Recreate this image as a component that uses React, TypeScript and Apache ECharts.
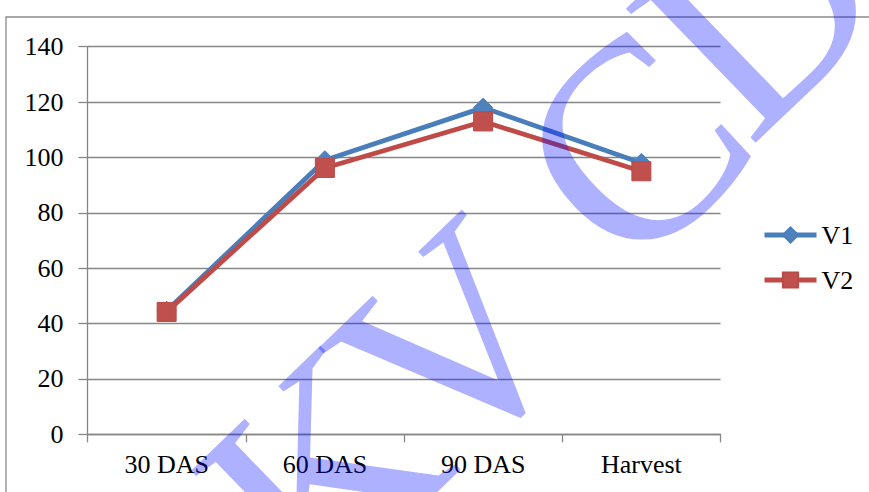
import React, { useEffect, useRef } from "react";
import * as echarts from "echarts";

// Growth stages on the category axis
const stages = ["30 DAS", "60 DAS", "90 DAS", "Harvest"];
// Measured values for each variety
const v1Values = [44.6, 99, 118, 98];
const v2Values = [44.2, 96.2, 113, 95];
const seriesNames = ["V1", "V2"];
// Value axis range
const yMin = 0;
const yMax = 140;
const yStep = 20;
// Stamp letters laid across the plot
const stampLetters = ["K", "V", "C", "D"];
const stampSpots = [
  [322, 470],
  [453, 344],
  [632, 146],
  [757, 8],
];

const FONT = "'Liberation Serif'";
const GRID_GRAY = "#868686";

export default function App() {
  const ref = useRef<HTMLDivElement>(null);

  useEffect(() => {
    if (!ref.current) return;
    const chart = echarts.init(ref.current, undefined, { renderer: "svg" });

    const stamp = stampLetters.map((ch, i) => ({
      type: "text",
      x: stampSpots[i][0],
      y: stampSpots[i][1],
      rotation: (44 * Math.PI) / 180,
      z: 100,
      silent: true,
      style: {
        text: ch,
        x: 0,
        y: 0,
        align: "center",
        verticalAlign: "middle",
        fill: "#000cff",
        opacity: 0.32,
        font: `285px ${FONT}`,
      },
    }));

    chart.setOption({
      animation: false,
      backgroundColor: "#ffffff",
      grid: { left: 87.5, right: 148.5, top: 46.7, bottom: 57.7, containLabel: false },
      legend: {
        orient: "vertical",
        left: 757,
        top: 217,
        itemWidth: 52,
        itemHeight: 19,
        itemGap: 19,
        lineStyle: { width: 5 },
        textStyle: { fontFamily: FONT, fontSize: 26, color: "rgb(0,0,0)" },
        data: seriesNames,
      },
      xAxis: {
        type: "category",
        data: stages,
        boundaryGap: true,
        axisLine: { show: true, lineStyle: { color: GRID_GRAY, width: 1.3 } },
        axisTick: { show: true, length: 8, interval: 0, lineStyle: { color: GRID_GRAY, width: 1.3 } },
        axisLabel: { fontFamily: FONT, fontSize: 26, color: "black", margin: 17, interval: 0 },
        splitLine: { show: false },
      },
      yAxis: {
        type: "value",
        min: yMin,
        max: yMax,
        interval: yStep,
        axisLine: { show: true, lineStyle: { color: GRID_GRAY, width: 1.3 } },
        axisTick: { show: true, length: 9, lineStyle: { color: GRID_GRAY, width: 1.3 } },
        axisLabel: { fontFamily: FONT, fontSize: 26, color: "#000000", margin: 24 },
        splitLine: { show: true, lineStyle: { color: GRID_GRAY, width: 1.3 } },
      },
      series: [
        {
          name: seriesNames[0],
          type: "line",
          data: v1Values,
          symbol: "diamond",
          symbolSize: 19,
          lineStyle: { color: "#4a7ebb", width: 4.8 },
          itemStyle: { color: "#4f81bd", borderColor: "#4a7ebb", borderWidth: 1 },
        },
        {
          name: seriesNames[1],
          type: "line",
          data: v2Values,
          symbol: "rect",
          symbolSize: 19,
          lineStyle: { color: "#be4b48", width: 4.8 },
          itemStyle: { color: "#c0504d", borderColor: "#b84a47", borderWidth: 1 },
        },
      ],
      graphic: [
        {
          type: "rect",
          silent: true,
          z: -10,
          shape: { x: 6, y: 17, width: 1000, height: 1000 },
          style: { fill: "none", stroke: "#8a8a8a", lineWidth: 1.3 },
        },
        ...stamp,
      ],
    });

    return () => chart.dispose();
  }, []);

  return (
    <div
      ref={ref}
      style={{ position: "absolute", left: 0, top: 0, width: 869, height: 492 }}
    />
  );
}
